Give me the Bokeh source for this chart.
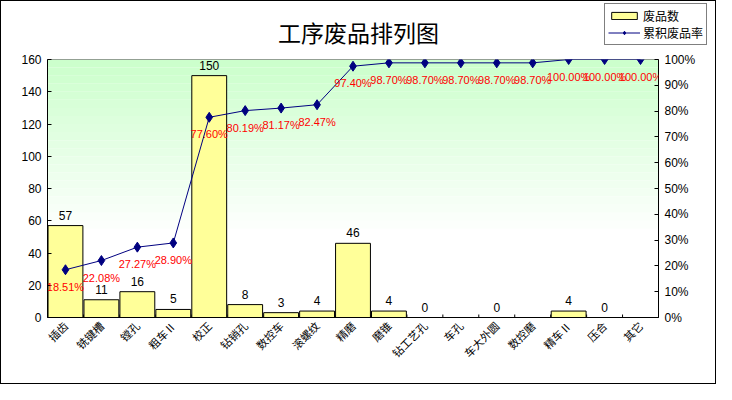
import math
from bokeh.plotting import figure
from bokeh.layouts import column
from bokeh.models import (ColumnDataSource, LinearAxis, Range1d, FixedTicker, Label,
                          PrintfTickFormatter, LabelSet, Legend, LegendItem, BoxAnnotation)
from bokeh.core.properties import value
from bokeh.embed import file_html
from bokeh.resources import INLINE

# ---- data ----
categories = ["插齿", "铣键槽", "镗孔", "粗车Ⅱ", "校正", "钻销孔", "数控车", "滚螺纹", "精磨",
              "磨锥", "钻工艺孔", "车孔", "车大外圆", "数控磨", "精车Ⅱ", "压合", "其它"]
counts = [57, 11, 16, 5, 150, 8, 3, 4, 46, 4, 0, None, 0, None, 4, 0, None]
cum_rate = [18.51, 22.08, 27.27, 28.90, 77.60, 80.19, 81.17, 82.47, 97.40,
            98.70, 98.70, 98.70, 98.70, 98.70, 100.00, 100.00, 100.00]
left_ticks = [0, 20, 40, 60, 80, 100, 120, 140, 160]
right_ticks = [0, 10, 20, 30, 40, 50, 60, 70, 80, 90, 100]
title_text = "工序废品排列图"
legend_labels = ["废品数", "累积废品率"]

NUM_FONT = "Liberation Sans"
CJK_FONT = "Noto Sans CJK SC"
BAR_FILL = "#FFFF99"
LINE_COLOR = "#000080"

W = 714
HEAD_H = 50
MAIN_H = 332
MB_TOP, MB_BOTTOM = 8, 66

# ---------- header (title + legend) ----------
head = figure(width=W, height=HEAD_H, x_range=Range1d(0, W), y_range=Range1d(0, HEAD_H),
              x_axis_type=None, y_axis_type=None, min_border=0,
              output_backend="svg", toolbar_location=None)
head.frame_align = False
head.outline_line_color = None
head.background_fill_color = "white"
head.border_fill_color = "white"
head.grid.visible = False
head.add_layout(Label(x=357, y=20, text=title_text, text_align="center", text_baseline="middle",
                      text_font=CJK_FONT, text_font_size="23px", text_color="black"))

# off-screen stand-ins used only to draw the legend swatches
lg_bar = head.vbar(x=[-1000], top=[-1000], width=1, fill_color=BAR_FILL, line_color="black")
lg_line = head.line(x=[-1000, -999], y=[-1000, -1000], line_color=LINE_COLOR, line_width=1)
lg_pts = head.scatter(x=[-1000], y=[-1000], marker="diamond", size=9,
                      fill_color=LINE_COLOR, line_color=LINE_COLOR)
legend = Legend(items=[LegendItem(label=legend_labels[0], renderers=[lg_bar]),
                       LegendItem(label=legend_labels[1], renderers=[lg_line, lg_pts])],
                location=(603, 6))
legend.label_text_font = CJK_FONT
legend.label_text_font_size = "12px"
legend.label_text_color = "black"
legend.glyph_width = 32
legend.glyph_height = 9
legend.label_standoff = 3
legend.padding = 3
legend.spacing = 0
legend.margin = 0
legend.border_line_color = "black"
legend.border_line_width = 1
legend.background_fill_alpha = 1.0
legend.label_height = 14
head.add_layout(legend, "center")

# ---------- main chart ----------
p = figure(x_range=categories, y_range=Range1d(0, 160), width=W, height=MAIN_H,
           output_backend="svg", toolbar_location=None,
           min_border_left=46, min_border_right=57, min_border_top=MB_TOP, min_border_bottom=MB_BOTTOM)
p.frame_align = False
p.background_fill_color = "white"
p.border_fill_color = "white"
p.outline_line_color = "#808080"
p.xgrid.visible = False
p.ygrid.visible = False

# gradient background (decoration)
top_c = (204, 255, 204)
g_hi, g_lo, n = 160.0, 50.0, 22
step = (g_hi - g_lo) / n
for i in range(n):
    t = i / (n - 1)
    r = int(top_c[0] + (255 - top_c[0]) * t)
    g = int(top_c[1] + (255 - top_c[1]) * t)
    b = int(top_c[2] + (255 - top_c[2]) * t)
    p.add_layout(BoxAnnotation(top=g_hi - i * step, bottom=g_hi - (i + 1) * step,
                               fill_color="#%02x%02x%02x" % (r, g, b), fill_alpha=1.0,
                               line_color=None, level="underlay"))

# small inward ticks at the category boundaries of the x axis
frame_h = MAIN_H - MB_TOP - MB_BOTTOM
tick_len = 3 * 160.0 / frame_h
bnd = list(range(len(categories) + 1))
p.segment(x0=bnd, y0=[0] * len(bnd), x1=bnd, y1=[tick_len] * len(bnd),
          line_color="black", line_width=1)

nan = float("nan")
src = ColumnDataSource(dict(cat=categories,
                            count=[nan if c is None else c for c in counts],
                            cum=cum_rate,
                            cum_txt=["%.2f%%" % v for v in cum_rate]))

bars = p.vbar(x="cat", top="count", width=0.97, source=src,
              fill_color=BAR_FILL, line_color="black", line_width=1)

p.extra_y_ranges = {"pct": Range1d(0, 100)}
line = p.line(x="cat", y="cum", source=src, y_range_name="pct", line_color=LINE_COLOR, line_width=1)
pts = p.scatter(x="cat", y="cum", source=src, y_range_name="pct", marker="diamond",
                size=10, fill_color=LINE_COLOR, line_color=LINE_COLOR)

# axes
yax = p.yaxis[0]
yax.ticker = FixedTicker(ticks=left_ticks)
raxis = LinearAxis(y_range_name="pct", ticker=FixedTicker(ticks=right_ticks),
                   formatter=PrintfTickFormatter(format="%d%%"))
p.add_layout(raxis, "right")
for ax in [yax, raxis]:
    ax.major_tick_in = 4
    ax.major_tick_out = 0
    ax.minor_tick_line_color = None
    ax.axis_line_color = "black"
    ax.major_tick_line_color = "black"
    ax.major_label_text_font = NUM_FONT
    ax.major_label_text_font_size = "12px"
    ax.major_label_text_color = "black"
    ax.major_label_standoff = 6

xax = p.xaxis[0]
xax.major_label_orientation = math.pi / 4
xax.major_label_text_font = CJK_FONT
xax.major_label_text_font_size = "11px"
xax.major_label_text_color = "black"
xax.major_tick_line_color = None
xax.major_tick_in = 0
xax.major_tick_out = 0
xax.axis_line_color = "black"
xax.major_label_standoff = 6

# labels
lab_idx = [i for i, c in enumerate(counts) if c is not None]
lab_src = ColumnDataSource(dict(cat=[categories[i] for i in lab_idx],
                                count=[counts[i] for i in lab_idx],
                                txt=[str(counts[i]) for i in lab_idx]))
p.add_layout(LabelSet(x="cat", y="count", text="txt", source=lab_src, text_align="center",
                      text_baseline="bottom", y_offset=6, text_font=value(NUM_FONT),
                      text_font_size="12px", text_color="black"))
p.add_layout(LabelSet(x="cat", y="cum", text="cum_txt", source=src, y_range_name="pct",
                      text_align="center", text_baseline="middle", y_offset=-17,
                      text_font=value(NUM_FONT), text_font_size="11px", text_color="red"))

layout = column(head, p, spacing=0, styles={"border": "1px solid black"})
open("out.html", "w").write(file_html(layout, INLINE))
